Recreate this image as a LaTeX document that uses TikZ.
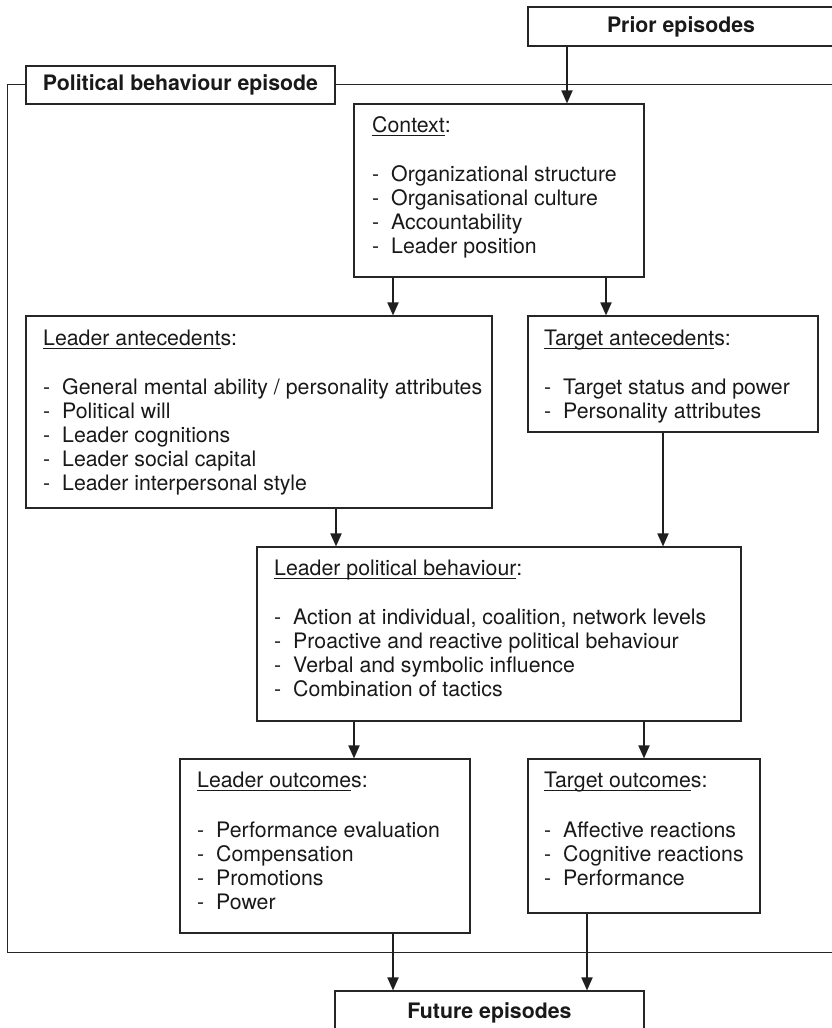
\documentclass[tikz,border=0pt]{standalone}
\usepackage{fontspec}
\setmainfont{TeX Gyre Heros}
\usetikzlibrary{arrows.meta}

% underline a word part with a rule sitting just under the baseline
\newsavebox\ulbox
\newcommand\ulword[1]{\sbox\ulbox{#1}\rlap{\rule[-3.6pt]{\wd\ulbox}{0.9pt}}\usebox\ulbox}
% list entry: dash followed by a fixed indent
\newcommand\itm[1]{\makebox[19pt][l]{-}#1}

\tikzset{
  box/.style={draw=black!85, line width=1.1pt, rectangle, inner sep=0pt},
  titlebox/.style={box, fill=white, font=\fontsize{21.3}{24}\selectfont\bfseries, text=black!90},
  % multi-line texts are placed by the baseline of their last line
  txt/.style={align=left, inner sep=0pt, anchor=base west,
              font=\fontsize{21.3}{24}\selectfont, text=black!90},
  arr/.style={draw=black!88, line width=1.8pt,
              -{Triangle[length=13pt,width=11pt]}},
  frameline/.style={draw=black!85, line width=0.9pt}
}

\begin{document}
\begin{tikzpicture}[x=1pt,y=-1pt]
\useasboundingbox (0,0) rectangle (832,1028);

% episode frame (open to the right)
\draw[frameline] (845,84) -- (7,84) -- (7,952) -- (845,952);
\node[titlebox, minimum width=309pt, minimum height=38pt] (episode) at (180.5,85) {Political behaviour episode};

% outer episodes
\node[titlebox, minimum width=306pt, minimum height=39pt] (prior) at (681,26.5) {Prior episodes};
\node[titlebox, minimum width=309pt, minimum height=44pt] (future) at (489.5,1013) {Future episodes};

% content boxes
\node[box, minimum width=290pt, minimum height=173pt] (ctx) at (499,190.5) {};
\node[box, minimum width=466pt, minimum height=192pt] (lant) at (259,412) {};
\node[box, minimum width=290pt, minimum height=116pt] (tant) at (673,374) {};
\node[box, minimum width=484pt, minimum height=174pt] (lpb) at (499,634) {};
\node[box, minimum width=290pt, minimum height=174pt] (lout) at (325,846) {};
\node[box, minimum width=232pt, minimum height=154pt] (tout) at (644,836) {};

% box texts
\node[txt] (ctxT) at (372,253) {\ulword{Context}:\\[25pt]
  \itm{Organizational structure}\\
  \itm{Organisational culture}\\
  \itm{Accountability}\\
  \itm{Leader position}};
\node[txt] (lantT) at (43,490) {\ulword{Leader antecedent}s:\\[25pt]
  \itm{General mental ability / personality attributes}\\
  \itm{Political will}\\
  \itm{Leader cognitions}\\
  \itm{Leader social capital}\\
  \itm{Leader interpersonal style}};
\node[txt] (tantT) at (544,418) {\ulword{Target antecedent}s:\\[25pt]
  \itm{Target status and power}\\
  \itm{Personality attributes}};
\node[txt] (lpbT) at (274,696) {\ulword{Leader political behaviour}:\\[25pt]
  \itm{Action at individual, coalition, network levels}\\
  \itm{Proactive and reactive political behaviour}\\
  \itm{Verbal and symbolic influence}\\
  \itm{Combination of tactics}};
\node[txt] (loutT) at (197,909) {\ulword{Leader outcome}s:\\[26pt]
  \itm{Performance evaluation}\\
  \itm{Compensation}\\
  \itm{Promotions}\\
  \itm{Power}};
\node[txt] (toutT) at (544,885) {\ulword{Target outcome}s:\\[26pt]
  \itm{Affective reactions}\\
  \itm{Cognitive reactions}\\
  \itm{Performance}};

% arrow columns
\coordinate (c1) at (567,0);
\coordinate (c2) at (393,0);
\coordinate (c3) at (606,0);
\coordinate (c4) at (336,0);
\coordinate (c5) at (663,0);
\coordinate (c6) at (354,0);
\coordinate (c7) at (644,0);
\coordinate (c8) at (393,0);
\coordinate (c9) at (587,0);

\draw[arr] (prior.south -| c1) -- (ctx.north -| c1);
\draw[arr] (ctx.south -| c2) -- (lant.north -| c2);
\draw[arr] (ctx.south -| c3) -- (tant.north -| c3);
\draw[arr] (lant.south -| c4) -- (lpb.north -| c4);
\draw[arr] (tant.south -| c5) -- (lpb.north -| c5);
\draw[arr] (lpb.south -| c6) -- (lout.north -| c6);
\draw[arr] (lpb.south -| c7) -- (tout.north -| c7);
\draw[arr] (lout.south -| c8) -- (future.north -| c8);
\draw[arr] (tout.south -| c9) -- (future.north -| c9);
\end{tikzpicture}
\end{document}
